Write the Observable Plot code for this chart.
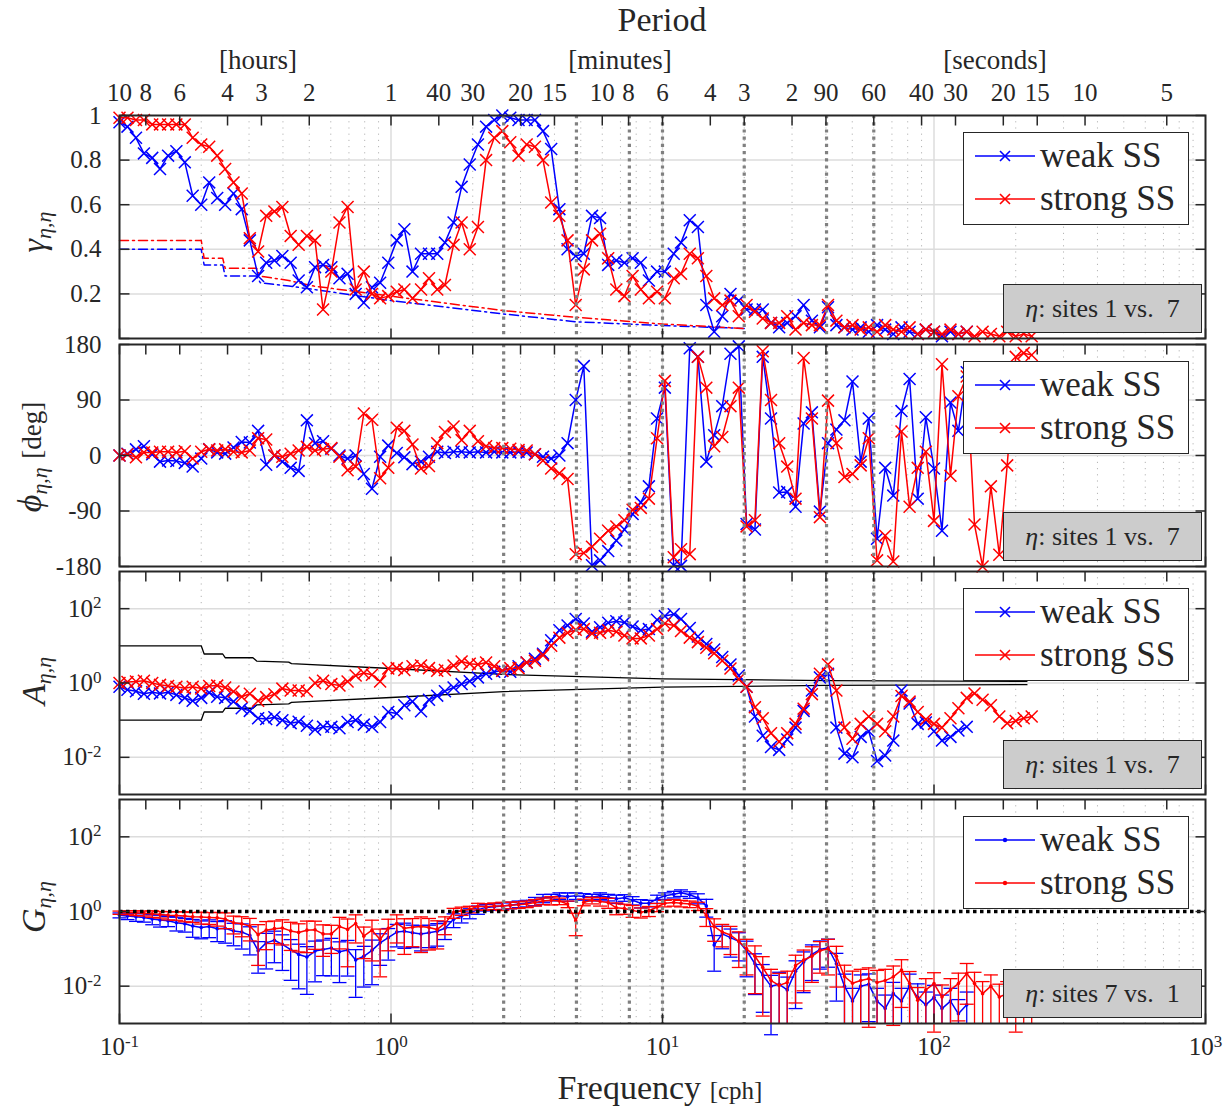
<!DOCTYPE html>
<html><head><meta charset="utf-8">
<script src="https://cdn.jsdelivr.net/npm/d3@7"></script>
<script src="https://cdn.jsdelivr.net/npm/@observablehq/plot@0.6"></script>
<style>
body{margin:0;background:#fff;}
#wrap{position:relative;width:1232px;height:1109px;font-family:"Liberation Serif","Times New Roman",serif;color:#262626;overflow:hidden;background:#fff;}
.lbl{position:absolute;transform:translate(-50%,-50%);white-space:nowrap;line-height:1;}
.legend{position:absolute;background:#fff;border:1.5px solid #262626;box-sizing:border-box;}
.legend .t{position:absolute;left:76px;font-size:35px;line-height:38px;white-space:nowrap;}
.info{position:absolute;background:#cccccc;border:1.5px solid #262626;box-sizing:border-box;font-size:26px;display:flex;align-items:center;justify-content:center;white-space:nowrap;}
</style></head><body><div id="wrap"></div>
<script>
// ---------------- data ----------------
const freq = [0.1,0.107,0.115,0.123,0.132,0.141,0.151,0.162,0.174,0.186,
0.2,0.214,0.229,0.245,0.263,0.282,0.302,0.324,0.347,0.372,
0.398,0.427,0.457,0.49,0.525,0.562,0.603,0.646,0.692,0.741,
0.794,0.851,0.912,0.977,1.05,1.12,1.2,1.29,1.38,1.48,
1.58,1.7,1.82,1.95,2.09,2.24,2.4,2.57,2.75,2.95,
3.16,3.39,3.63,3.89,4.17,4.47,4.79,5.13,5.5,5.89,
6.31,6.76,7.24,7.76,8.32,8.91,9.55,10.2,11,11.7,
12.6,13.5,14.5,15.5,16.6,17.8,19.1,20.4,21.9,23.4,
25.1,26.9,28.8,30.9,33.1,35.5,38,40.7,43.7,46.8,
50.1,53.7,57.5,61.7,66.1,70.8,75.9,81.3,87.1,93.3,
100,107,115,123,132,141,151,162,174,186,
200,214,229];

const gammaWeak = [0.97,0.95,0.9,0.83,0.81,0.76,0.82,0.84,0.79,0.64,
0.6,0.7,0.63,0.6,0.65,0.58,0.44,0.28,0.34,0.35,
0.37,0.34,0.26,0.23,0.32,0.33,0.32,0.27,0.29,0.2,
0.16,0.23,0.25,0.34,0.44,0.49,0.3,0.38,0.38,0.38,
0.43,0.52,0.68,0.78,0.87,0.95,0.98,1.0,0.99,0.98,
0.98,0.98,0.93,0.85,0.58,0.4,0.37,0.38,0.55,0.54,
0.33,0.35,0.34,0.36,0.34,0.26,0.3,0.3,0.38,0.43,
0.53,0.5,0.15,0.03,0.1,0.2,0.17,0.13,0.13,0.13,
0.07,0.05,0.07,0.1,0.15,0.08,0.05,0.14,0.06,0.05,
0.04,0.05,0.03,0.06,0.04,0.02,0.05,0.03,0.02,0.04,
0.03,0.01,0.03,0.02,0.03];
const gammaStrong = [0.99,0.99,0.98,0.98,0.96,0.96,0.96,0.96,0.96,0.9,
0.87,0.86,0.82,0.76,0.7,0.65,0.45,0.39,0.55,0.57,
0.59,0.46,0.42,0.46,0.44,0.13,0.3,0.52,0.59,0.22,
0.3,0.2,0.18,0.19,0.21,0.22,0.18,0.22,0.27,0.22,
0.24,0.42,0.52,0.4,0.5,0.8,0.9,0.93,0.88,0.82,
0.87,0.86,0.8,0.61,0.55,0.44,0.15,0.31,0.44,0.47,
0.36,0.22,0.19,0.28,0.22,0.18,0.21,0.18,0.27,0.29,
0.38,0.36,0.28,0.18,0.15,0.17,0.1,0.15,0.12,0.09,
0.07,0.07,0.1,0.04,0.07,0.06,0.06,0.15,0.08,0.05,
0.06,0.04,0.05,0.03,0.06,0.04,0.03,0.05,0.02,0.04,
0.03,0.02,0.04,0.02,0.03,0.01,0.03,0.02,0.01,0.03,
0.01,0.02,0.01];

const sigFreq = [0.1,0.2,0.205,0.24,0.245,0.32,0.33,0.42,0.52,1,2.6,4.8,10,20];
const sigGammaWeak = [0.4,0.4,0.33,0.33,0.28,0.28,0.25,0.235,0.22,0.17,0.11,0.075,0.058,0.045];
const sigGammaStrong = [0.44,0.44,0.36,0.36,0.315,0.315,0.28,0.26,0.235,0.19,0.125,0.095,0.065,0.045];

const phiWeak = [0,3,10,15,2,-10,-8,-9,-12,-18,
-5,10,5,3,13,22,21,40,-15,0,
-10,-20,-25,57,20,23,11,0,-5,0,
-30,-54,-2,16,4,-3,-14,-10,-2,6,
4,6,6,5,6,5,6,5,5,6,
5,2,-2,-5,0,20,90,145,-178,-170,
-155,-138,-120,-95,-76,-50,60,110,-178,-179,
174,160,-10,33,80,165,177,-111,-120,160,
60,-60,-59,-83,52,70,-91,20,42,57,
120,-10,60,-135,-20,-65,72,124,-70,62,
-21,-122,86,40,135];
const phiStrong = [0,2,-3,5,5,6,6,5,7,-5,
6,10,8,10,6,5,8,28,26,0,
-2,3,8,14,8,10,12,-2,-24,-18,
68,58,-37,-20,45,40,18,-21,-17,20,
38,47,25,40,23,15,12,12,11,9,
8,2,-8,-21,-29,-38,-160,-158,-148,-135,
-122,-115,-105,-88,-85,-70,28,121,-165,-152,
-160,160,110,15,30,80,110,-115,-105,169,
90,20,-18,-70,158,60,-100,89,20,-35,
-30,-16,28,-170,-130,-172,39,-83,-20,6,
-106,148,-33,96,128,-112,-180,-50,-161,-16,
160,166,163];

// log10 of amplitude ratio A
const ampWeakLog = [-0.1,-0.18,-0.22,-0.29,-0.25,-0.28,-0.25,-0.32,-0.4,-0.48,
-0.4,-0.26,-0.37,-0.4,-0.5,-0.68,-0.75,-0.95,-0.97,-0.92,
-1.0,-1.08,-1.04,-1.15,-1.25,-1.18,-1.18,-1.22,-1.05,-1.0,
-1.12,-1.18,-1.05,-0.78,-0.82,-0.6,-0.5,-0.76,-0.45,-0.34,
-0.22,-0.12,-0.03,0.05,0.15,0.25,0.3,0.33,0.3,0.45,
0.55,0.65,0.79,1.15,1.42,1.55,1.72,1.6,1.38,1.5,
1.62,1.66,1.63,1.52,1.42,1.45,1.7,1.8,1.85,1.72,
1.48,1.25,1.05,0.9,0.7,0.5,0.2,-0.1,-0.9,-1.42,
-1.72,-1.8,-1.52,-1.2,-0.75,-0.2,0.15,0.25,-1.2,-1.9,
-2.0,-1.45,-1.3,-2.1,-1.95,-1.55,-0.2,-0.55,-1.1,-1.06,
-1.3,-1.55,-1.45,-1.28,-1.18];
const ampStrongLog = [0,0.03,0.04,0.06,0,-0.05,-0.08,-0.1,-0.14,-0.1,
-0.15,-0.08,-0.07,-0.12,-0.23,-0.37,-0.29,-0.48,-0.38,-0.3,
-0.15,-0.2,-0.2,-0.22,0,0.06,-0.03,-0.07,0.04,0.2,
0.27,0.22,0.04,0.39,0.4,0.35,0.45,0.47,0.4,0.33,
0.35,0.47,0.58,0.52,0.5,0.55,0.45,0.33,0.4,0.4,
0.55,0.6,0.75,1.0,1.22,1.35,1.43,1.45,1.33,1.35,
1.42,1.38,1.28,1.2,1.2,1.28,1.45,1.6,1.55,1.4,
1.22,1.1,0.95,0.8,0.6,0.39,0.1,-0.1,-0.65,-0.95,
-1.35,-1.58,-1.35,-1.1,-0.69,-0.3,0.25,0.5,-0.2,-1.2,
-1.5,-1.1,-0.9,-1.1,-1.3,-0.9,-0.35,-0.5,-0.78,-0.98,
-1.1,-1.2,-0.95,-0.68,-0.4,-0.28,-0.45,-0.6,-0.9,-1.08,
-1.02,-0.95,-0.9];
const ampBandFreq = [0.1,0.2,0.205,0.24,0.245,0.31,0.32,0.42,0.43,1,2.6,10,40,220];
const ampBandLog = [1.0,1.0,0.78,0.78,0.68,0.68,0.59,0.56,0.52,0.39,0.23,0.11,0.065,0.045];

// log10 of gain G and relative error (sigma / G)
const gainWeakLog = [-0.1,-0.12,-0.14,-0.16,-0.2,-0.23,-0.25,-0.3,-0.33,-0.39,
-0.43,-0.4,-0.46,-0.45,-0.52,-0.55,-0.64,-1.05,-0.84,-0.77,
-0.88,-1.02,-1.15,-1.22,-1.06,-1.02,-0.98,-1.08,-1.03,-1.3,
-1.2,-1.04,-0.84,-0.7,-0.55,-0.53,-0.57,-0.6,-0.57,-0.53,
-0.45,-0.21,-0.12,-0.04,0.05,0.11,0.13,0.15,0.17,0.2,
0.22,0.28,0.36,0.38,0.42,0.4,0.42,0.4,0.38,0.42,
0.38,0.34,0.37,0.3,0.22,0.22,0.34,0.42,0.46,0.5,
0.45,0.36,0.15,-0.9,-0.6,-0.7,-0.8,-1.05,-1.4,-1.7,
-2.0,-1.95,-2.1,-1.6,-1.35,-1.15,-1.02,-0.97,-1.4,-2.0,
-2.4,-2.0,-1.95,-2.4,-2.6,-2.2,-2.4,-2.0,-2.3,-2.5,
-2.3,-2.6,-2.4,-2.74,-2.5];
const gainWeakErr = [0.15,0.2,0.25,0.25,0.3,0.35,0.3,0.4,0.4,0.5,
0.5,0.5,0.55,0.6,0.6,0.65,0.7,0.75,0.8,0.75,
0.8,0.85,0.88,0.9,0.85,0.8,0.82,0.85,0.8,0.9,
0.85,0.88,0.75,0.75,0.6,0.65,0.6,0.65,0.6,0.6,
0.5,0.4,0.35,0.3,0.25,0.2,0.2,0.2,0.2,0.2,
0.2,0.25,0.25,0.2,0.2,0.25,0.2,0.2,0.2,0.2,
0.2,0.25,0.2,0.25,0.25,0.2,0.25,0.2,0.2,0.2,
0.2,0.3,0.5,0.8,0.6,0.7,0.7,0.8,0.85,0.9,
0.95,1.1,1.2,0.9,0.85,0.8,0.7,0.7,0.9,1.1,
1.2,1.0,0.9,1.2,1.3,1.0,1.2,1.1,1.3,1.2,
1.1,1.3,1.2,1.4,1.2];
const gainStrongLog = [-0.03,-0.03,-0.04,-0.05,-0.06,-0.08,-0.1,-0.11,-0.12,-0.14,
-0.15,-0.16,-0.17,-0.2,-0.3,-0.33,-0.39,-0.62,-0.5,-0.46,
-0.44,-0.52,-0.56,-0.5,-0.49,-0.6,-0.6,-0.4,-0.48,-0.32,
-0.66,-0.5,-0.75,-0.45,-0.32,-0.45,-0.42,-0.4,-0.43,-0.48,
-0.32,-0.03,0.02,0.06,0.14,0.13,0.15,0.15,0.17,0.18,
0.2,0.24,0.28,0.3,0.28,0.2,-0.25,0.25,0.3,0.27,
0.24,0.1,0.08,0.03,-0.02,0.02,0.12,0.22,0.24,0.22,
0.2,0.15,-0.1,-0.4,-0.55,-0.63,-0.8,-1.0,-1.2,-1.5,
-1.85,-1.98,-1.9,-1.45,-1.3,-1.2,-1.05,-1.0,-1.2,-1.74,
-1.92,-1.85,-1.8,-1.9,-1.85,-1.75,-1.57,-1.93,-2.38,-2.1,
-1.93,-2.29,-2.1,-1.93,-1.66,-1.93,-2.2,-2.0,-2.29,-2.2,
-1.93,-2.2,-1.95];
const gainStrongErr = [0.1,0.12,0.15,0.15,0.2,0.2,0.25,0.25,0.3,0.3,
0.35,0.35,0.4,0.45,0.5,0.55,0.6,0.85,0.7,0.6,
0.65,0.7,0.7,0.75,0.7,0.75,0.7,0.75,0.9,0.7,
0.75,0.85,0.9,0.75,0.7,0.8,0.7,0.8,0.75,0.7,
0.5,0.3,0.25,0.2,0.2,0.2,0.2,0.25,0.2,0.2,
0.2,0.2,0.2,0.25,0.2,0.2,0.6,0.2,0.2,0.25,
0.3,0.35,0.3,0.35,0.3,0.3,0.25,0.2,0.2,0.2,
0.2,0.25,0.5,0.6,0.6,0.7,0.8,0.8,0.9,0.95,
1.0,1.1,1.0,0.9,0.85,0.8,0.75,0.8,0.85,1.0,
1.1,1.0,0.95,1.1,1.0,0.95,0.9,1.1,1.2,1.0,
0.95,1.1,1.0,0.9,0.85,1.0,1.1,1.0,1.2,1.1,
0.95,1.1,1.0];

const periodFreq = [0.1,0.125,0.1667,0.25,0.3333,0.5,1,1.5,2,3,4,6,7.5,10,15,20,30,40,60,90,120,180,240,360,720];
const periodLabel = ["10","8","6","4","3","2","1","40","30","20","15","10","8","6","4","3","2","90","60","40","30","20","15","10","5"];
const markerFreq = [2.6,4.82,7.55,10,20,40.2,60];
const decadeFreq = [0.1,1,10,100,1000];
const seriesNames = ["weak SS","strong SS"];
const BLUE = "#0000ff", RED = "#ff0000", INK = "#262626";

// ---------------- helpers ----------------
const wrap = document.getElementById("wrap");
const ns = "http://www.w3.org/2000/svg";
const minorF = [0.1,1,10,100].flatMap(d => [2,3,4,5,6,7,8,9].map(m => m * d));
const rows = (vals, tf = v => v) => vals.map((v, i) => ({f: freq[i], v: tf(v)}));
const tickSym = (dx, dy) => ({draw(ctx){ ctx.moveTo(0,0); ctx.lineTo(dx,dy); }});
const capSym = {draw(ctx){ ctx.moveTo(-7,0); ctx.lineTo(7,0); }};
const powFmt = d => "10^" + Math.round(Math.log10(d));

function gridMarks(yGrid){
  return [
    Plot.ruleX(minorF, {stroke:"#b5b5b5", strokeWidth:1, strokeDasharray:"1.2,5"}),
    Plot.ruleX([1,10,100], {stroke:"#dcdcdc", strokeWidth:1.5}),
    Plot.ruleY(yGrid, {stroke:"#dcdcdc", strokeWidth:1.5})
  ];
}
function overMarks(yTicks){
  const t = {stroke:INK, strokeWidth:1.5, fill:"none"};
  return [
    Plot.ruleX(markerFreq, {stroke:"#808080", strokeWidth:3.2, strokeDasharray:"3.2,4"}),
    Plot.dot(periodFreq, {x:d=>d, frameAnchor:"top", symbol:tickSym(0,10), ...t}),
    Plot.dot(decadeFreq, {x:d=>d, frameAnchor:"bottom", symbol:tickSym(0,-10), ...t}),
    Plot.dot(yTicks, {y:d=>d, frameAnchor:"left", symbol:tickSym(10,0), ...t}),
    Plot.dot(yTicks, {y:d=>d, frameAnchor:"right", symbol:tickSym(-10,0), ...t}),
    Plot.frame({stroke:INK, strokeWidth:2})
  ];
}
function crossSeries(data, color){
  return [
    Plot.line(data, {x:"f", y:"v", stroke:color, strokeWidth:1.5}),
    Plot.dot(data, {x:"f", y:"v", symbol:"times", r:5.5, stroke:color, strokeWidth:1.5, fill:"none"})
  ];
}
function supify(svg){
  svg.querySelectorAll("text").forEach(t => {
    const m = /^10\^(.+)$/.exec(t.textContent);
    if (!m) return;
    t.textContent = "";
    const a = document.createElementNS(ns, "tspan"); a.textContent = "10";
    const b = document.createElementNS(ns, "tspan");
    b.setAttribute("dy", "-0.5em"); b.setAttribute("font-size", "0.68em"); b.textContent = m[1];
    t.append(a, b);
  });
}
function addPlot(top, opts){
  const svg = Plot.plot({
    width:1232, marginLeft:119, marginRight:27,
    style:{fontFamily:"'Liberation Serif','Times New Roman',serif", fontSize:"25px", color:INK, background:"transparent", overflow:"visible"},
    ...opts
  });
  supify(svg);
  svg.style.position = "absolute"; svg.style.left = "0px"; svg.style.top = top + "px";
  wrap.appendChild(svg);
}
function addLabel(html, cx, cy, size, extra = ""){
  const d = document.createElement("div");
  d.className = "lbl"; d.style.left = cx + "px"; d.style.top = cy + "px"; d.style.fontSize = size + "px";
  d.style.cssText += extra;
  d.innerHTML = html; wrap.appendChild(d);
}
function swatch(color, dot, cy){
  const mk = dot ? `<circle cx="31" cy="10" r="2.2" fill="${color}"/>`
                 : `<path d="M26,5L36,15M26,15L36,5" stroke="${color}" stroke-width="1.6" fill="none"/>`;
  return `<svg width="62" height="20" style="position:absolute;left:10px;top:${cy-10}px"><line x1="1" y1="10" x2="61" y2="10" stroke="${color}" stroke-width="1.6"/>${mk}</svg>`;
}
function addLegend(panelTop, panelBottom, dot, info){
  const L = document.createElement("div");
  L.className = "legend";
  Object.assign(L.style, {left:"963px", top:(panelTop+17)+"px", width:"226px", height:"93px"});
  L.innerHTML = swatch(BLUE, dot, 23) + `<div class="t" style="top:${23-19}px">${seriesNames[0]}</div>` +
                swatch(RED, dot, 66) + `<div class="t" style="top:${66-19}px">${seriesNames[1]}</div>`;
  wrap.appendChild(L);
  const I = document.createElement("div");
  I.className = "info";
  Object.assign(I.style, {left:"1003px", top:(panelBottom-54)+"px", width:"199px", height:"49px"});
  I.innerHTML = info;
  wrap.appendChild(I);
}

// ---------------- panel 1: coherence ----------------
addPlot(0, {
  height:341, marginTop:115, marginBottom:3,
  x:{type:"log", domain:[0.1,1000], axis:null},
  y:{domain:[0,1], ticks:[0.2,0.4,0.6,0.8,1], tickFormat:d=>d===1?"1":d.toFixed(1), tickSize:0, tickPadding:18, label:null},
  marks:[
    ...gridMarks([0.2,0.4,0.6,0.8]),
    Plot.line(sigFreq.map((f,i)=>({f, v:sigGammaWeak[i]})), {x:"f", y:"v", stroke:BLUE, strokeWidth:1.5, strokeDasharray:"9,4,2,4"}),
    Plot.line(sigFreq.map((f,i)=>({f, v:sigGammaStrong[i]})), {x:"f", y:"v", stroke:RED, strokeWidth:1.5, strokeDasharray:"9,4,2,4"}),
    ...crossSeries(rows(gammaWeak), BLUE),
    ...crossSeries(rows(gammaStrong), RED),
    ...overMarks([0,0.2,0.4,0.6,0.8,1]),
    Plot.text(periodFreq, {x:d=>d, text:(d,i)=>periodLabel[i], frameAnchor:"top", lineAnchor:"middle", dy:-23, fontSize:25, fill:INK})
  ]
});

// ---------------- panel 2: phase ----------------
addPlot(341, {
  height:228, marginTop:3, marginBottom:3,
  x:{type:"log", domain:[0.1,1000], axis:null},
  y:{domain:[-180,180], ticks:[-180,-90,0,90,180], tickFormat:d=>String(d), tickSize:0, tickPadding:18, label:null},
  marks:[
    ...gridMarks([-90,0,90]),
    ...crossSeries(rows(phiWeak), BLUE),
    ...crossSeries(rows(phiStrong), RED),
    ...overMarks([-180,-90,0,90,180])
  ]
});

// ---------------- panel 3: amplitude ratio ----------------
addPlot(568, {
  height:229, marginTop:3, marginBottom:3,
  x:{type:"log", domain:[0.1,1000], axis:null},
  y:{type:"log", domain:[1e-3,1e3], ticks:[1e-2,1,1e2], tickFormat:powFmt, tickSize:0, tickPadding:18, label:null},
  marks:[
    ...gridMarks([1e-2,1,1e2]),
    Plot.line(ampBandFreq.map((f,i)=>({f, v:10**ampBandLog[i]})), {x:"f", y:"v", stroke:"#000", strokeWidth:1.3}),
    Plot.line(ampBandFreq.map((f,i)=>({f, v:10**(-ampBandLog[i])})), {x:"f", y:"v", stroke:"#000", strokeWidth:1.3}),
    ...crossSeries(rows(ampWeakLog, e=>10**e), BLUE),
    ...crossSeries(rows(ampStrongLog, e=>10**e), RED),
    ...overMarks([1e-2,1,1e2])
  ]
});

// ---------------- panel 4: gain ----------------
function gainRows(logs, errs){
  return logs.map((e,i)=>{
    const g = 10**e, r = errs[i];
    return {f:freq[i], g, hi:g*(1+r), lo: r < 1 ? g*(1-r) : 1e-3, capLo: r < 1};
  });
}
function gainSeries(data, color){
  return [
    Plot.ruleX(data, {x:"f", y1:"lo", y2:"hi", stroke:color, strokeWidth:1.3}),
    Plot.dot(data, {x:"f", y:"hi", symbol:capSym, stroke:color, strokeWidth:1.3, fill:"none"}),
    Plot.dot(data.filter(d=>d.capLo), {x:"f", y:"lo", symbol:capSym, stroke:color, strokeWidth:1.3, fill:"none"}),
    Plot.line(data, {x:"f", y:"g", stroke:color, strokeWidth:1.5}),
    Plot.dot(data, {x:"f", y:"g", r:1.8, fill:color})
  ];
}
addPlot(796, {
  height:313, marginTop:3, marginBottom:86,
  x:{type:"log", domain:[0.1,1000], axis:"bottom", ticks:decadeFreq, tickFormat:powFmt, tickSize:0, tickPadding:14, label:null},
  y:{type:"log", domain:[1e-3,1e3], ticks:[1e-2,1,1e2], tickFormat:powFmt, tickSize:0, tickPadding:18, label:null},
  marks:[
    ...gridMarks([1e-2,1e2]),
    ...gainSeries(gainRows(gainWeakLog, gainWeakErr), BLUE),
    ...gainSeries(gainRows(gainStrongLog, gainStrongErr), RED),
    Plot.ruleY([1], {stroke:"#000", strokeWidth:3.5, strokeDasharray:"3.5,3.5"}),
    ...overMarks([1e-2,1,1e2])
  ]
});

// ---------------- text, legends ----------------
addLabel("Period", 662, 20, 34);
addLabel("[hours]", 258, 60, 27);
addLabel("[minutes]", 620, 60, 27);
addLabel("[seconds]", 995, 60, 27);
addLabel('<span style="font-size:34px">Frequency</span> <span style="font-size:25px">[cph]</span>', 660, 1088, 34);
const sub = '<sub style="font-size:22px;vertical-align:-6px"><i>η</i>,<i>η</i></sub>';
addLabel('<i>γ</i>' + sub, 36, 232, 34, "transform:translate(-50%,-50%) rotate(-90deg);");
addLabel('<i>ϕ</i>' + sub + ' <span style="font-size:27px">[deg]</span>', 32, 457, 34, "transform:translate(-50%,-50%) rotate(-90deg);");
addLabel('<i>A</i>' + sub, 36, 681, 34, "transform:translate(-50%,-50%) rotate(-90deg);");
addLabel('<i>G</i>' + sub, 36, 907, 34, "transform:translate(-50%,-50%) rotate(-90deg);");

addLegend(115, 338, false, '<i>η</i>:&nbsp;sites 1 vs.&nbsp; 7');
addLegend(344, 566, false, '<i>η</i>:&nbsp;sites 1 vs.&nbsp; 7');
addLegend(571, 794, false, '<i>η</i>:&nbsp;sites 1 vs.&nbsp; 7');
addLegend(799, 1023, true, '<i>η</i>:&nbsp;sites 7 vs.&nbsp; 1');
</script></body></html>
